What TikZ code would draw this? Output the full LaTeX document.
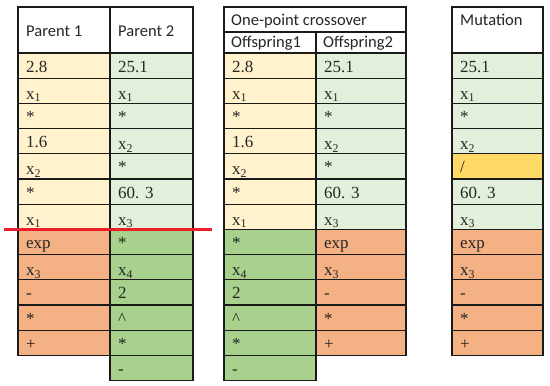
\documentclass[tikz,border=0pt]{standalone}
\usepackage{fontspec}
\setmainfont{Liberation Serif}
\newfontfamily\cellfont{Liberation Serif}
\newfontfamily\hdrfont{Carlito}
\definecolor{ylw}{HTML}{FFF2CC}
\definecolor{lgr}{HTML}{E2EFDA}
\definecolor{org}{HTML}{F4B183}
\definecolor{dgr}{HTML}{A9D18E}
\definecolor{gld}{HTML}{FFD966}
\definecolor{bord}{HTML}{1A1A1A}
\definecolor{cutred}{HTML}{E8202A}
\newcommand\xs[1]{\raisebox{-2pt}{x\textsubscript{#1}}}
\newcommand\slashch{/}
\newcommand\gpcolumn[4]{%
  \foreach [count=\i from 0] \c/\t in {#4} {
    \pgfmathsetmacro\ya{53+\i*25.2}
    \pgfmathsetmacro\yb{53+(\i+1)*25.2}
    \filldraw[fill=\c, cellbox] (#1,\ya) rectangle (#2,\yb);
    \node[txt] (#3\i) at (#1+8,\ya+19) {\t};
  }}
\begin{document}
\begin{tikzpicture}[x=1pt,y=-1pt,
  cellbox/.style={draw=bord, line width=1.1pt},
  txt/.style={anchor=base west, inner sep=0pt, text=black!85, font=\cellfont\fontsize{17}{19}\selectfont},
  hd/.style={anchor=base west, inner sep=0pt, text=black!85, font=\hdrfont\fontsize{16.5}{19}\selectfont},
  cutline/.style={draw=cutred, line width=2.4pt}]
\useasboundingbox (0,0) rectangle (550,386);
% headers
\filldraw[fill=white, cellbox] (18,7) rectangle (110,53);
\filldraw[fill=white, cellbox] (110,7) rectangle (193,53);
\filldraw[fill=white, cellbox] (224,7) rectangle (406,32);
\filldraw[fill=white, cellbox] (224,32) rectangle (316,53);
\filldraw[fill=white, cellbox] (316,32) rectangle (406,53);
\filldraw[fill=white, cellbox] (452,7) rectangle (543,53);
\node[hd] (hp1) at (26,36) {Parent 1};
\node[hd] (hp2) at (118,36) {Parent 2};
\node[hd] (hoc) at (231,25) {One-point crossover};
\node[hd] (ho1) at (231,47) {Offspring1};
\node[hd] (ho2) at (323,47) {Offspring2};
\node[hd] (hmu) at (460,25) {Mutation};
% columns
\gpcolumn{18}{110}{pa}{ylw/2.8, ylw/\xs1, ylw/*, ylw/1.6, ylw/\xs2, ylw/*, ylw/\xs1, org/exp, org/\xs3, org/-, org/*, org/+}
\gpcolumn{110}{193}{pb}{lgr/25.1, lgr/\xs1, lgr/*, lgr/\xs2, lgr/*, lgr/60. 3, lgr/\xs3, dgr/*, dgr/\xs4, dgr/2, dgr/\textasciicircum, dgr/*, dgr/-}
\gpcolumn{224}{316}{oa}{ylw/2.8, ylw/\xs1, ylw/*, ylw/1.6, ylw/\xs2, ylw/*, ylw/\xs1, dgr/*, dgr/\xs4, dgr/2, dgr/\textasciicircum, dgr/*, dgr/-}
\gpcolumn{316}{406}{ob}{lgr/25.1, lgr/\xs1, lgr/*, lgr/\xs2, lgr/*, lgr/60. 3, lgr/\xs3, org/exp, org/\xs3, org/-, org/*, org/+}
\gpcolumn{452}{543}{mu}{lgr/25.1, lgr/\xs1, lgr/*, lgr/\xs2, gld/\slashch, lgr/60. 3, lgr/\xs3, org/exp, org/\xs3, org/-, org/*, org/+}
% crossover point
\coordinate (cutL) at (4,229.6);
\coordinate (cutR) at (212,229.6);
\draw[cutline] (cutL) -- (cutR);
\end{tikzpicture}
\end{document}
